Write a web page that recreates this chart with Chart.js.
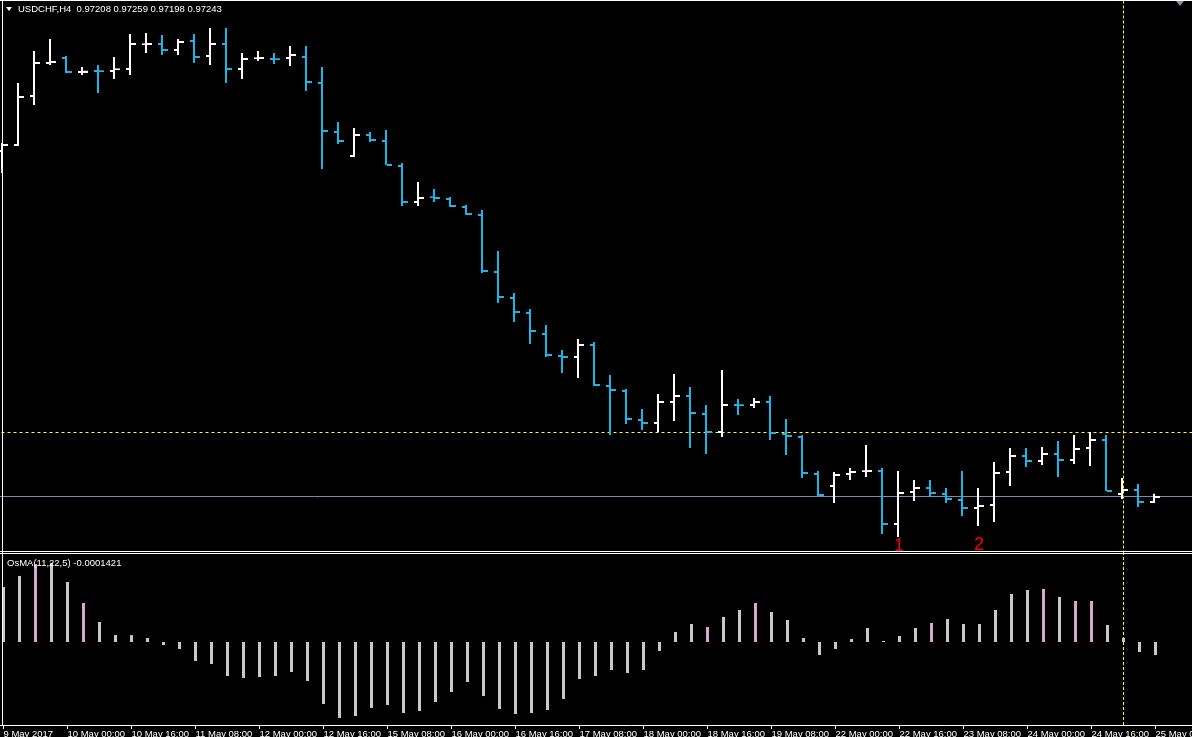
<!DOCTYPE html>
<html><head><meta charset="utf-8">
<script src="https://cdn.jsdelivr.net/npm/chart.js@4.4.1/dist/chart.umd.min.js"></script>
<style>
html,body{margin:0;padding:0;background:#000;overflow:hidden;width:1192px;height:737px;}
#wrap{position:absolute;left:0;top:0;width:1192px;height:737px;overflow:hidden;background:#000;}
canvas{position:absolute;left:0;}
#c1{top:0;}
#c2{top:553px;}
.ln{position:absolute;background:#fff;}
.txt{position:absolute;font-family:'Liberation Sans',Arial,sans-serif;font-size:9.5px;line-height:11px;color:#fff;white-space:pre;}
</style></head><body>
<div id="wrap">
<canvas id="c1" width="1260" height="553"></canvas>
<canvas id="c2" width="1260" height="200"></canvas>
<div class="ln" style="left:0;top:0;width:1192px;height:1px"></div>
<div class="ln" style="left:2px;top:0;width:1px;height:725px"></div>
<div class="ln" style="left:0;top:551px;width:1192px;height:1px"></div>
<div class="ln" style="left:0;top:553px;width:1192px;height:1px"></div>
<div style="position:absolute;left:6px;top:7px;width:0;height:0;border-left:3px solid transparent;border-right:3px solid transparent;border-top:4px solid #fff"></div>
<div style="position:absolute;left:1176px;top:1px;width:0;height:0;border-left:4px solid transparent;border-right:4px solid transparent;border-top:5px solid #8393a8"></div>
<div class="txt" style="left:18px;top:3px">USDCHF,H4  0.97208 0.97259 0.97198 0.97243</div>
<div class="txt" style="left:7px;top:557px">OsMA(11,22,5) -0.0001421</div>
</div>
<script>
// ---- data ----
const OPEN = [0.99665,0.99707,1.00050,1.00281,1.00316,1.00218,1.00225,1.00225,1.00239,1.00411,
1.00414,1.00372,1.00435,1.00330,1.00414,1.00239,1.00313,1.00309,1.00316,1.00323,
1.00141,0.99798,0.99630,0.99777,0.99735,0.99560,0.99308,0.99340,0.99329,0.99273,
0.99217,0.98818,0.98636,0.98531,0.98384,0.98230,0.98223,0.98307,0.98020,0.97985,
0.97782,0.97761,0.97908,0.97950,0.97824,0.97698,0.97887,0.97887,0.97908,0.97684,
0.97663,0.97404,0.97320,0.97404,0.97423,0.97425,0.97054,0.97278,0.97306,0.97264,
0.97222,0.97166,0.97187,0.97418,0.97530,0.97495,0.97544,0.97502,0.97586,0.97642,
0.97264,0.97292,0.97208];
const HIGH = [0.99714,1.00134,1.00358,1.00442,1.00323,1.00246,1.00260,1.00316,1.00477,1.00484,
1.00470,1.00442,1.00477,1.00519,1.00519,1.00344,1.00358,1.00344,1.00393,1.00393,
1.00246,0.99861,0.99819,0.99791,0.99805,0.99574,0.99441,0.99392,0.99336,0.99280,
0.99245,0.98958,0.98664,0.98552,0.98440,0.98265,0.98342,0.98321,0.98090,0.97992,
0.97852,0.97957,0.98097,0.98006,0.97880,0.98125,0.97922,0.97929,0.97943,0.97782,
0.97670,0.97418,0.97411,0.97439,0.97600,0.97439,0.97418,0.97355,0.97355,0.97299,
0.97418,0.97299,0.97481,0.97579,0.97579,0.97586,0.97628,0.97670,0.97691,0.97670,
0.97369,0.97327,0.97259];
const LOW = [0.99504,0.99693,0.99980,1.00260,1.00204,1.00190,1.00064,1.00162,1.00190,1.00344,
1.00330,1.00330,1.00274,1.00260,1.00134,1.00162,1.00288,1.00267,1.00253,1.00078,
0.99532,0.99707,0.99616,0.99721,0.99560,0.99273,0.99273,0.99301,0.99266,0.99210,
0.98804,0.98594,0.98461,0.98307,0.98216,0.98104,0.98069,0.98013,0.97670,0.97747,
0.97705,0.97691,0.97768,0.97579,0.97537,0.97656,0.97810,0.97859,0.97635,0.97530,
0.97369,0.97243,0.97194,0.97355,0.97376,0.96977,0.96956,0.97208,0.97236,0.97194,
0.97103,0.97033,0.97061,0.97313,0.97446,0.97460,0.97376,0.97467,0.97453,0.97278,
0.97222,0.97166,0.97198];
const CLOSE = [0.99707,1.00043,1.00281,1.00288,1.00218,1.00220,1.00223,1.00236,1.00414,1.00414,
1.00372,1.00428,1.00323,1.00414,1.00239,1.00309,1.00316,1.00307,1.00337,1.00148,
0.99805,0.99735,0.99777,0.99742,0.99567,0.99308,0.99336,0.99336,0.99280,0.99224,
0.98825,0.98643,0.98538,0.98405,0.98237,0.98223,0.98307,0.98027,0.97992,0.97789,
0.97761,0.97908,0.97950,0.97831,0.97698,0.97887,0.97885,0.97908,0.97691,0.97670,
0.97411,0.97257,0.97397,0.97418,0.97425,0.97054,0.97271,0.97306,0.97271,0.97229,
0.97166,0.97180,0.97411,0.97530,0.97495,0.97544,0.97502,0.97579,0.97642,0.97285,
0.97292,0.97208,0.97243];
const OSMA = [0.000600,0.000720,0.000850,0.000861,0.000654,0.000425,0.000218,0.0000763,0.000075,0.0000436,
-0.0000327,-0.0000763,-0.000207,-0.000240,-0.000371,-0.000392,-0.000382,-0.000371,-0.000327,-0.000425,
-0.000676,-0.000828,-0.000807,-0.000719,-0.000687,-0.000774,-0.000752,-0.000654,-0.000545,-0.000436,
-0.000589,-0.000730,-0.000785,-0.000774,-0.000741,-0.000621,-0.000403,-0.000371,-0.000305,-0.000338,
-0.000305,-0.0000981,0.000109,0.000196,0.000164,0.000273,0.000349,0.000425,0.000327,0.000240,
0.0000436,-0.000142,-0.0000763,0.0000327,0.000153,0.0000109,0.0000654,0.000153,0.000207,0.000251,
0.000196,0.000196,0.000349,0.000523,0.000567,0.000578,0.000491,0.000447,0.000447,0.000185,
0.0000436,-0.000109,-0.0001421];
const OSMA_FLAG = [0,0,1,0,0,1,0,0,0,0, 0,0,0,0,0,0,0,0,0,0, 0,0,0,0,0,0,0,0,0,0,
0,0,0,0,0,0,0,0,0,0, 0,0,0,0,1,0,0,1,0,0, 0,0,0,0,0,0,0,0,1,0, 0,0,0,0,0,1,0,1,1,0, 0,0,0];
const TICK_INDEX = [0,4,8,12,16,20,24,28,32,36,40,44,48,52,56,60,64,68,72];
const TICK_LABELS = ['9 May 2017','10 May 00:00','10 May 16:00','11 May 08:00','12 May 00:00','12 May 16:00',
'15 May 08:00','16 May 00:00','16 May 16:00','17 May 08:00','18 May 00:00','18 May 16:00','19 May 08:00',
'22 May 00:00','22 May 16:00','23 May 08:00','24 May 00:00','24 May 16:00','25 May 08:00'];
const LEVEL_PRICE = 0.97691;   // yellow dashed horizontal line
const BID_PRICE = 0.97243;     // bid line
const VLINE_BAR = 70;          // vertical dashed line (25 May 00:00)
const MARK_LABELS = ['1','2'];
const MARK_BARS = [56, 61];
const MARK_PRICES = [0.96855, 0.96865];

// ---- styles ----
const UP = '#FFFFFF', DN = '#1CB5E8', YEL = '#FFFF00', BIDC = '#7890B0';
const SILVER = '#C8C8C8', PINK = '#D8A6CE';
const FONT = "'Liberation Sans', Arial, sans-serif";
const W = 1260;
const PX = 16; // pixels per bar
const isUp = i => CLOSE[i] >= OPEN[i];

function tickImg(color, left){
  const c = document.createElement('canvas'); c.width = 12; c.height = 4;
  const g = c.getContext('2d'); g.fillStyle = color; g.fillRect(left ? 1 : 6, 2, 5, 2);
  return c;
}
const imgs = {oU: tickImg(UP,true), oD: tickImg(DN,true), cU: tickImg(UP,false), cD: tickImg(DN,false)};

const idx = OPEN.map((_, i) => i);
const Y1MAX = 1.00715, Y1MIN = 0.96844; // 553 px tall
const HALF1 = (Y1MAX - Y1MIN) / 553 / 2;
const X1MIN = -3 / PX, X1MAX = X1MIN + W / PX;

const markPlugin = {
  id: 'marks',
  afterDatasetsDraw(chart){
    const {ctx, scales} = chart;
    ctx.save(); ctx.fillStyle = '#FF0000'; ctx.font = "18px " + FONT;
    ctx.textAlign = 'center'; ctx.textBaseline = 'alphabetic';
    MARK_LABELS.forEach((t, k) => ctx.fillText(t, scales.x.getPixelForValue(MARK_BARS[k]), scales.y.getPixelForValue(MARK_PRICES[k])));
    ctx.restore();
  }
};

new Chart(document.getElementById('c1'), {
  type: 'bar',
  data: { datasets: [
    { type:'bar', order:0, data: idx.map(i => ({x:i, y:[LOW[i], HIGH[i]]})),
      backgroundColor: c => isUp(c.dataIndex) ? UP : DN, borderWidth:0, barThickness:2, inflateAmount:0 },
    { type:'scatter', order:0, data: idx.map(i => ({x:i, y:OPEN[i]})),
      pointStyle: c => isUp(c.dataIndex) ? imgs.oU : imgs.oD, pointRadius:3 },
    { type:'scatter', order:0, data: idx.map(i => ({x:i, y:CLOSE[i]})),
      pointStyle: c => isUp(c.dataIndex) ? imgs.cU : imgs.cD, pointRadius:3 },
    { type:'line', order:5, xAxisID:'xl', yAxisID:'yl', data:[{x:-2,y:LEVEL_PRICE},{x:90,y:LEVEL_PRICE}],
      borderColor:YEL, borderWidth:1, borderDash:[3,3], pointRadius:0 },
    { type:'line', order:5, xAxisID:'xl', yAxisID:'yl', data:[{x:-2,y:BID_PRICE},{x:90,y:BID_PRICE}],
      borderColor:BIDC, borderWidth:1, pointRadius:0 },
    { type:'line', order:5, xAxisID:'xl', yAxisID:'yl', data:[{x:VLINE_BAR,y:Y1MIN},{x:VLINE_BAR,y:Y1MAX}],
      borderColor:YEL, borderWidth:1, borderDash:[3,2], pointRadius:0 }
  ]},
  options: {
    responsive:false, animation:false, devicePixelRatio:1, events:[],
    layout:{padding:0, autoPadding:false},
    plugins:{legend:{display:false}, tooltip:{enabled:false}},
    scales: {
      x: {type:'linear', display:false, min:X1MIN, max:X1MAX, offset:false, bounds:'data', grid:{offset:false}},
      y: {type:'linear', display:false, min:Y1MIN, max:Y1MAX, bounds:'data'},
      xl:{type:'linear', display:false, min:X1MIN - 0.5/PX, max:X1MAX - 0.5/PX, offset:false, bounds:'data'},
      yl:{type:'linear', display:false, min:Y1MIN + HALF1, max:Y1MAX + HALF1, bounds:'data'}
    }
  },
  plugins:[markPlugin]
});

const X2MIN = -3.5 / PX, X2MAX = X2MIN + W / PX;
const Y2MAX = 0.0009701, Y2MIN = -0.0009047;
new Chart(document.getElementById('c2'), {
  type: 'bar',
  data: { datasets: [
    { type:'bar', order:0, data: idx.map(i => ({x:i, y:OSMA[i]})),
      backgroundColor: c => OSMA_FLAG[c.dataIndex] ? PINK : SILVER, borderWidth:0, barThickness:3, inflateAmount:0 },
    { type:'line', order:5, data:[{x:VLINE_BAR,y:Y2MIN},{x:VLINE_BAR,y:Y2MAX}],
      borderColor:YEL, borderWidth:1, borderDash:[3,2], pointRadius:0 }
  ]},
  options: {
    responsive:false, animation:false, devicePixelRatio:1, events:[],
    layout:{padding:0, autoPadding:false},
    plugins:{legend:{display:false}, tooltip:{enabled:false}},
    scales: {
      x: {type:'linear', display:true, position:'bottom', min:X2MIN, max:X2MAX, offset:false, bounds:'data',
          afterBuildTicks: s => { s.ticks = TICK_INDEX.map(v => ({value:v})); },
          afterFit: s => { s.height = 28; },
          ticks:{autoSkip:false, maxRotation:0, minRotation:0, align:'start', padding:0, color:'#FFFFFF',
                 font:{family:FONT, size:9.5}, callback:(v, i) => TICK_LABELS[i]},
          grid:{display:true, drawOnChartArea:false, drawTicks:true, tickLength:4, color:'#FFFFFF', offset:false},
          border:{display:true, color:'#FFFFFF', width:1}},
      y: {type:'linear', display:false, min:Y2MIN, max:Y2MAX, bounds:'data'}
    }
  }
});
</script>
</body></html>
